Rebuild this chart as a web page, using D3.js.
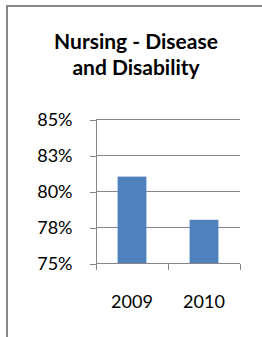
<!DOCTYPE html>
<meta charset="utf-8">
<style>
body { margin: 0; background: #fff; }
svg { display: block; font-family: Lato, "Open Sans", sans-serif; }
.frame { fill: none; stroke: #868686; stroke-width: 2; }
.title { font-size: 21px; font-weight: bold; fill: #000; }
.grid line { stroke: #868686; stroke-width: 1; shape-rendering: crispEdges; }
.axis path, .axis line { stroke: #868686; shape-rendering: crispEdges; }
.axis text { font-size: 18px; fill: #000; font-family: Lato, sans-serif; }
.bar { fill: #4f81bd; }
</style>
<svg id="chart" width="262" height="337"></svg>
<script src="https://d3js.org/d3.v7.min.js"></script>
<script>

var years = ["2009", "2010"];
var values = [0.81, 0.78];
var tickValues = [0.75, 0.775, 0.8, 0.825, 0.85];
var tickLabels = ["75%", "78%", "80%", "83%", "85%"];
var titleLines = ["Nursing - Disease", "and Disability"];

var svg = d3.select("#chart");

// outer chart border: only the left and top edges are visible
svg.append("path")
    .attr("class", "frame")
    .attr("d", "M7,337V6H262");

svg.append("g")
  .selectAll("text")
  .data(titleLines)
  .enter().append("text")
    .attr("class", "title")
    .attr("x", 136)
    .attr("y", function(d, i) { return 49 + i * 26; })
    .attr("text-anchor", "middle")
    .text(function(d) { return d; });

var x = d3.scaleBand()
    .domain(years)
    .range([96, 240])
    .paddingInner(0.6)
    .paddingOuter(0.3);

var y = d3.scaleLinear()
    .domain([0.75, 0.85])
    .range([263, 119]);

// horizontal gridlines
svg.append("g")
    .attr("class", "grid")
  .selectAll("line")
  .data(tickValues)
  .enter().append("line")
    .attr("x1", 96).attr("x2", 240)
    .attr("y1", function(d) { return Math.round(y(d)) + 0.5; })
    .attr("y2", function(d) { return Math.round(y(d)) + 0.5; });

var yAxis = d3.axisLeft(y)
    .tickValues(tickValues)
    .tickSize(7)
    .tickPadding(17)
    .tickFormat(function(d, i) { return tickLabels[i]; });

svg.append("g")
    .attr("class", "axis")
    .attr("transform", "translate(96.5,0.5)")
    .call(yAxis)
    .call(function(g) { g.select(".domain").attr("d", "M0," + y(0.85) + "V" + y(0.75)); });

svg.selectAll(".bar")
  .data(values)
  .enter().append("rect")
    .attr("class", "bar")
    .attr("x", function(d, i) { return x(years[i]); })
    .attr("width", x.bandwidth())
    .attr("y", function(d) { return y(d); })
    .attr("height", function(d) { return y(0.75) - y(d); });

// x axis: ticks at band edges, labels centred under bars
var xg = svg.append("g")
    .attr("class", "axis")
    .attr("transform", "translate(0," + (Math.round(y(0.75)) + 0.5) + ")");

xg.append("path")
    .attr("d", "M96,0H240");

xg.selectAll(".edge")
  .data(d3.range(years.length + 1))
  .enter().append("line")
    .attr("class", "edge")
    .attr("x1", function(i) { return Math.round(96 + i * x.step()) + 0.5; })
    .attr("x2", function(i) { return Math.round(96 + i * x.step()) + 0.5; })
    .attr("y1", 0).attr("y2", 6);

xg.selectAll("text")
  .data(years)
  .enter().append("text")
    .attr("x", function(d) { return x(d) + x.bandwidth() / 2; })
    .attr("y", 44)
    .attr("text-anchor", "middle")
    .text(function(d) { return d; });

</script>
